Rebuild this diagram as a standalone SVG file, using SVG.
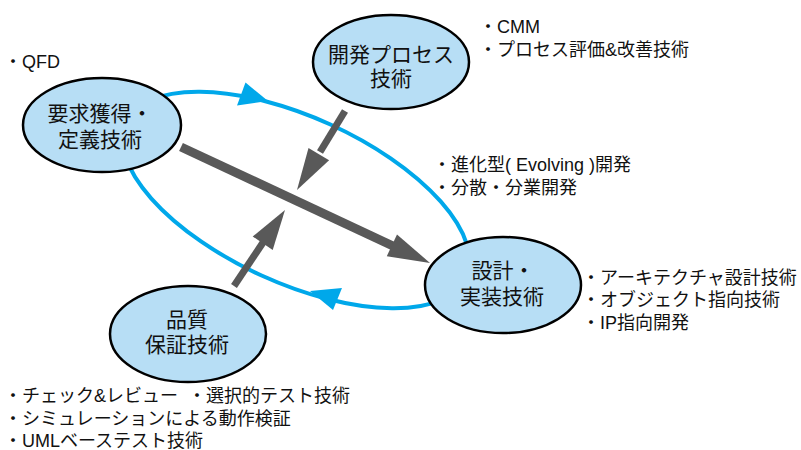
<svg xmlns="http://www.w3.org/2000/svg" width="801" height="450" viewBox="0 0 801 450">
<style>
.node{fill:#b7def5;stroke:#000;stroke-width:2.5}
.ntxt{font-family:"Noto Sans CJK JP","Noto Sans CJK SC",sans-serif;font-size:21px;fill:#111;text-anchor:middle}
.btxt{font-family:"Liberation Sans","Noto Sans CJK JP",sans-serif;font-size:18px;fill:#111}
.cycle{fill:none;stroke:#00a8ea;stroke-width:4}
.cyhead{fill:#00a8ea}
.gline{stroke:#595959;fill:none}
.ghead{fill:#595959}
</style>
<rect width="801" height="450" fill="#fff"/>
<g id="connectors">
<ellipse class="cycle" cx="296" cy="200" rx="187" ry="83" transform="rotate(24.5 296 200)"/>
<polygon class="cyhead" points="237,105.5 245.5,82.5 268,101"/>
<polygon class="cyhead" points="342,288 333,310 310,291"/>
<line class="gline" x1="181" y1="147" x2="393" y2="246" stroke-width="9"/>
<polygon class="ghead" points="430,263 386.8,256.2 397,234.4"/>
<line class="gline" x1="345" y1="111" x2="320" y2="152" stroke-width="7"/>
<polygon class="ghead" points="297,190 308.5,147.9 329.1,160.3"/>
<line class="gline" x1="234" y1="286" x2="264" y2="241" stroke-width="7"/>
<polygon class="ghead" points="285,210 272.7,249.9 252.7,236.5"/>
</g>
<g id="node-youkyuu">
<ellipse class="node" cx="102" cy="125" rx="79" ry="47"/>
<text class="ntxt" x="100" y="121">要求獲得・</text>
<text class="ntxt" x="100" y="147">定義技術</text>
</g>
<g id="node-process">
<ellipse class="node" cx="391" cy="62" rx="78" ry="47"/>
<text class="ntxt" x="391" y="62">開発プロセス</text>
<text class="ntxt" x="391" y="86">技術</text>
</g>
<g id="node-sekkei">
<ellipse class="node" cx="503" cy="285" rx="78" ry="48"/>
<text class="ntxt" x="503" y="278">設計・</text>
<text class="ntxt" x="502" y="304">実装技術</text>
</g>
<g id="node-hinshitsu">
<ellipse class="node" cx="188" cy="334" rx="78" ry="48"/>
<text class="ntxt" x="187" y="327">品質</text>
<text class="ntxt" x="187" y="352">保証技術</text>
</g>
<g id="notes">
<text class="btxt" x="4" y="68">・QFD</text>
<text class="btxt" x="479" y="33">・CMM</text>
<text class="btxt" x="479" y="56">・プロセス評価&amp;改善技術</text>
<text class="btxt" x="433" y="171">・進化型( Evolving )開発</text>
<text class="btxt" x="433" y="194">・分散・分業開発</text>
<text class="btxt" x="582" y="284">・アーキテクチャ設計技術</text>
<text class="btxt" x="582" y="306">・オブジェクト指向技術</text>
<text class="btxt" x="582" y="329">・IP指向開発</text>
<text class="btxt" x="4" y="402">・チェック&amp;レビュー</text>
<text class="btxt" x="188" y="402">・選択的テスト技術</text>
<text class="btxt" x="4" y="425">・シミュレーションによる動作検証</text>
<text class="btxt" x="4" y="447">・UMLベーステスト技術</text>
</g>
</svg>
